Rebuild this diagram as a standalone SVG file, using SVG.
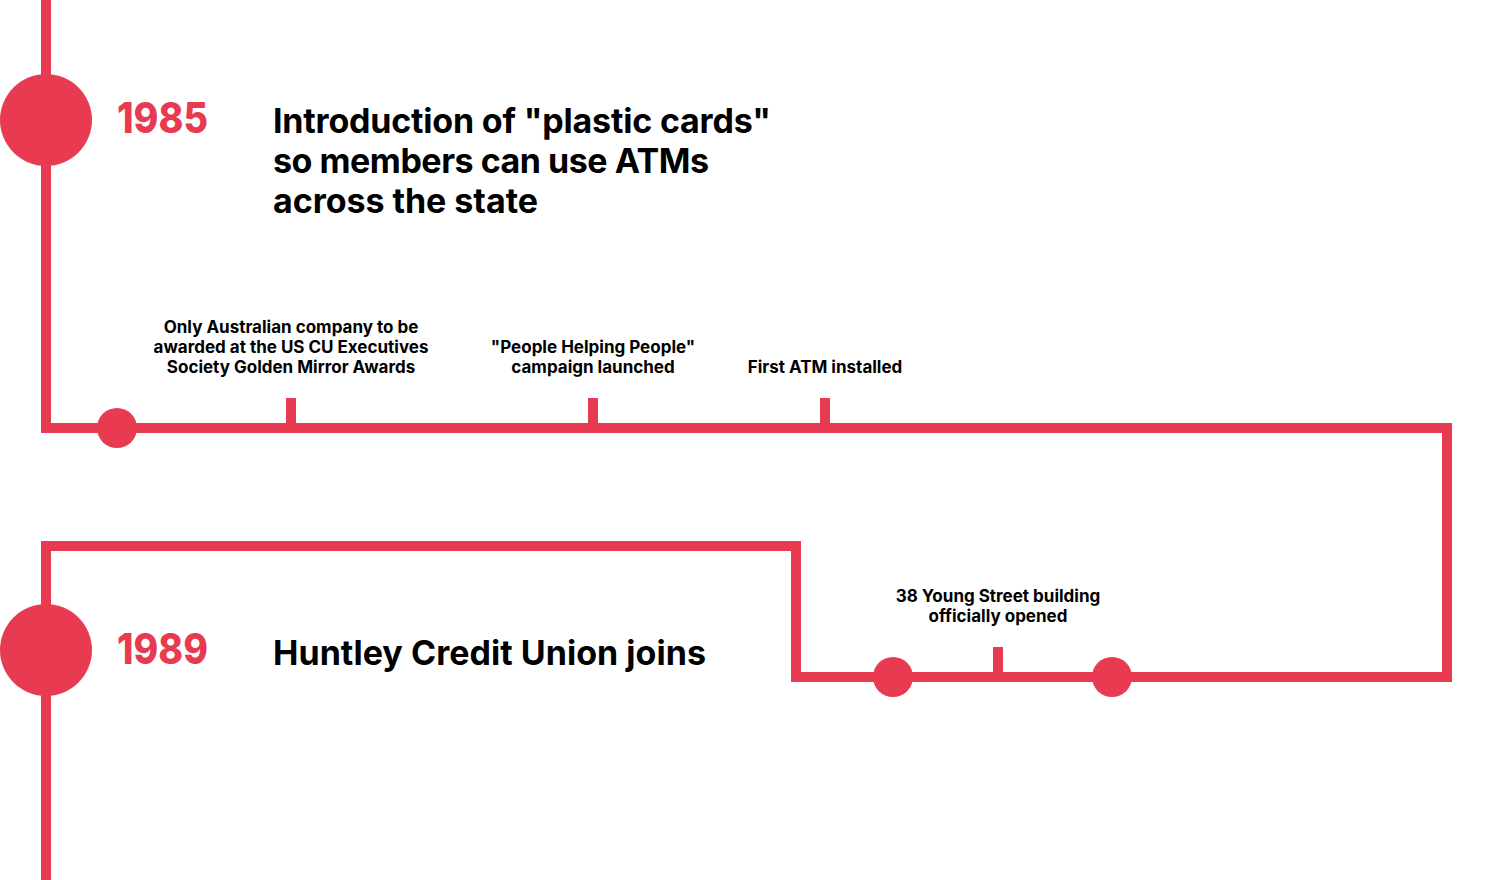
<svg xmlns="http://www.w3.org/2000/svg" width="1498" height="880" viewBox="0 0 1498 880">
<style>
.ln{fill:none;stroke:#e83b52;stroke-width:10;stroke-linecap:butt;stroke-linejoin:miter}
.dot{fill:#e83b52}
.yr{font-family:Inter,"Liberation Sans",sans-serif;font-weight:800;font-size:43px;fill:#e83b52}
.hd{font-family:Inter,"Liberation Sans",sans-serif;font-weight:700;font-size:34px;fill:#000}
.sm{font-family:Inter,"Liberation Sans",sans-serif;font-weight:700;font-size:17px;fill:#000;text-anchor:middle}
</style>
<rect width="1498" height="880" fill="#fff"/>
<g id="connectors">
<polyline class="ln" points="46,0 46,428 1447,428 1447,677 796,677 796,546 46,546 46,880"/>
<line class="ln" x1="291" y1="398" x2="291" y2="428"/>
<line class="ln" x1="593" y1="398" x2="593" y2="428"/>
<line class="ln" x1="825" y1="398" x2="825" y2="428"/>
<line class="ln" x1="998" y1="647" x2="998" y2="677"/>
</g>
<g id="node-1985">
<circle class="dot" cx="46" cy="120" r="46"/>
<text class="yr" x="117" y="133" textLength="91" lengthAdjust="spacingAndGlyphs">1985</text>
<text class="hd" x="273" y="133" textLength="498" lengthAdjust="spacing">Introduction of "plastic cards"</text>
<text class="hd" x="273" y="173" textLength="436" lengthAdjust="spacing">so members can use ATMs</text>
<text class="hd" x="273" y="213" textLength="265" lengthAdjust="spacing">across the state</text>
</g>
<g id="node-dot-1">
<circle class="dot" cx="117" cy="428" r="20"/>
</g>
<g id="node-golden-mirror">
<text class="sm" x="291" y="333">Only Australian company to be</text>
<text class="sm" x="291" y="353">awarded at the US CU Executives</text>
<text class="sm" x="291" y="373">Society Golden Mirror Awards</text>
</g>
<g id="node-people-helping">
<text class="sm" x="593" y="353">"People Helping People"</text>
<text class="sm" x="593" y="373">campaign launched</text>
</g>
<g id="node-first-atm">
<text class="sm" x="825" y="373">First ATM installed</text>
</g>
<g id="node-young-street">
<text class="sm" x="998" y="602">38 Young Street building</text>
<text class="sm" x="998" y="622">officially opened</text>
</g>
<g id="node-dot-2">
<circle class="dot" cx="893" cy="677" r="20"/>
</g>
<g id="node-dot-3">
<circle class="dot" cx="1112" cy="677" r="20"/>
</g>
<g id="node-1989">
<circle class="dot" cx="46" cy="650" r="46"/>
<text class="yr" x="117" y="664" textLength="91" lengthAdjust="spacingAndGlyphs">1989</text>
<text class="hd" x="273" y="665" textLength="433" lengthAdjust="spacing">Huntley Credit Union joins</text>
</g>
</svg>
